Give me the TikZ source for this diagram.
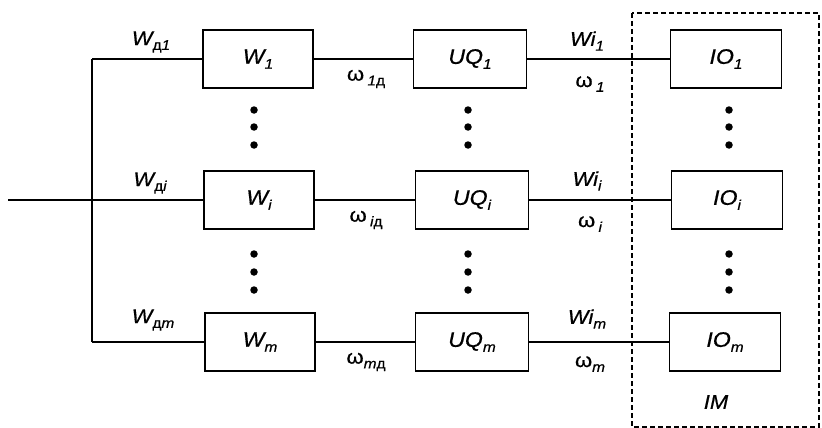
\documentclass[tikz,border=0pt]{standalone}
\usepackage{fontspec}
\setmainfont{Liberation Sans}[FakeStretch=1.1,FakeBold=0.6]
\newcommand\sbs[1]{\raisebox{-0.45ex}{\fontsize{14}{16}\selectfont #1}}
\newcommand\dd{{\upshape д}}
\begin{document}
\begin{tikzpicture}[x=1pt,y=-1pt,
  blk/.style={draw,line width=1.7pt,minimum width=110pt,minimum height=58pt,inner sep=0pt,font=\fontsize{21}{24}\selectfont\itshape},
  wire/.style={line width=1.4pt},
  lbl/.style={inner sep=0pt,font=\fontsize{20}{23}\selectfont\itshape},
  dotc/.style={circle,fill,inner sep=0pt,minimum size=7.5pt}]
\useasboundingbox (0,0) rectangle (822,428);
% blocks
\node[blk] (W1) at (258,59) {W\sbs{1}};
\node[blk] (Wi) at (259,200) {W\sbs{i}};
\node[blk] (Wm) at (260,342) {W\sbs{m}};
\node[blk,minimum width=113pt] (U1) at (470,59) {UQ\sbs{1}};
\node[blk,minimum width=113pt] (Ui) at (472,200) {UQ\sbs{i}};
\node[blk,minimum width=113pt] (Um) at (472,342) {UQ\sbs{m}};
\node[blk,minimum width=111pt] (I1) at (726,59) {IO\sbs{1}};
\node[blk,minimum width=111pt] (Ii) at (727,200) {IO\sbs{i}};
\node[blk,minimum width=111pt] (Im) at (725,342) {IO\sbs{m}};
% wires
\coordinate (in) at (8,200);
\coordinate (t) at (92,59);
\coordinate (b) at (92,342);
\draw[wire] (in) -- (Wi.west);
\draw[wire] (t) -- (b);
\draw[wire] (t) -- (W1.west);
\draw[wire] (b) -- (Wm.west);
\draw[wire] (W1) -- (U1);
\draw[wire] (Wi) -- (Ui);
\draw[wire] (Wm) -- (Um);
\draw[wire] (U1) -- (I1);
\draw[wire] (Ui) -- (Ii);
\draw[wire] (Um) -- (Im);
% dashed region
\draw[line width=1.3pt,dash pattern=on 5pt off 3pt] (632,13) rectangle (819,427);
\node[lbl] (IM) at (716,402) {IM};
% labels
\node[lbl] (l1) at (151,42) {W\sbs{\dd1}};
\node[lbl] (l2) at (150,183) {W\sbs{\dd i}};
\node[lbl] (l3) at (153,320) {W\sbs{\dd m}};
\node[lbl] (o1) at (366,79) {\upshape ω\,\sbs{\itshape 1\dd}};
\node[lbl] (o2) at (366,220) {\upshape ω\,\sbs{\itshape i\dd}};
\node[lbl] (o3) at (366,362) {\upshape ω\sbs{\itshape m\dd}};
\node[lbl] (w1) at (587,41) {Wi\sbs{1}};
\node[lbl] (w2) at (587,181) {Wi\sbs{i}};
\node[lbl] (w3) at (587,319) {Wi\sbs{m}};
\node[lbl] (p1) at (590,84) {\upshape ω\,\sbs{\itshape 1}};
\node[lbl] (p2) at (590,224) {\upshape ω\,\sbs{\itshape i}};
\node[lbl] (p3) at (590,364) {\upshape ω\sbs{\itshape m}};
% dots
\foreach \x/\n in {254/a,468/b,729/c}{
  \node[dotc] (\n1) at (\x,110) {};
  \node[dotc] (\n2) at (\x,127) {};
  \node[dotc] (\n3) at (\x,145) {};
  \node[dotc] (\n4) at (\x,254) {};
  \node[dotc] (\n5) at (\x,272) {};
  \node[dotc] (\n6) at (\x,290) {};
}
\end{tikzpicture}
\end{document}
